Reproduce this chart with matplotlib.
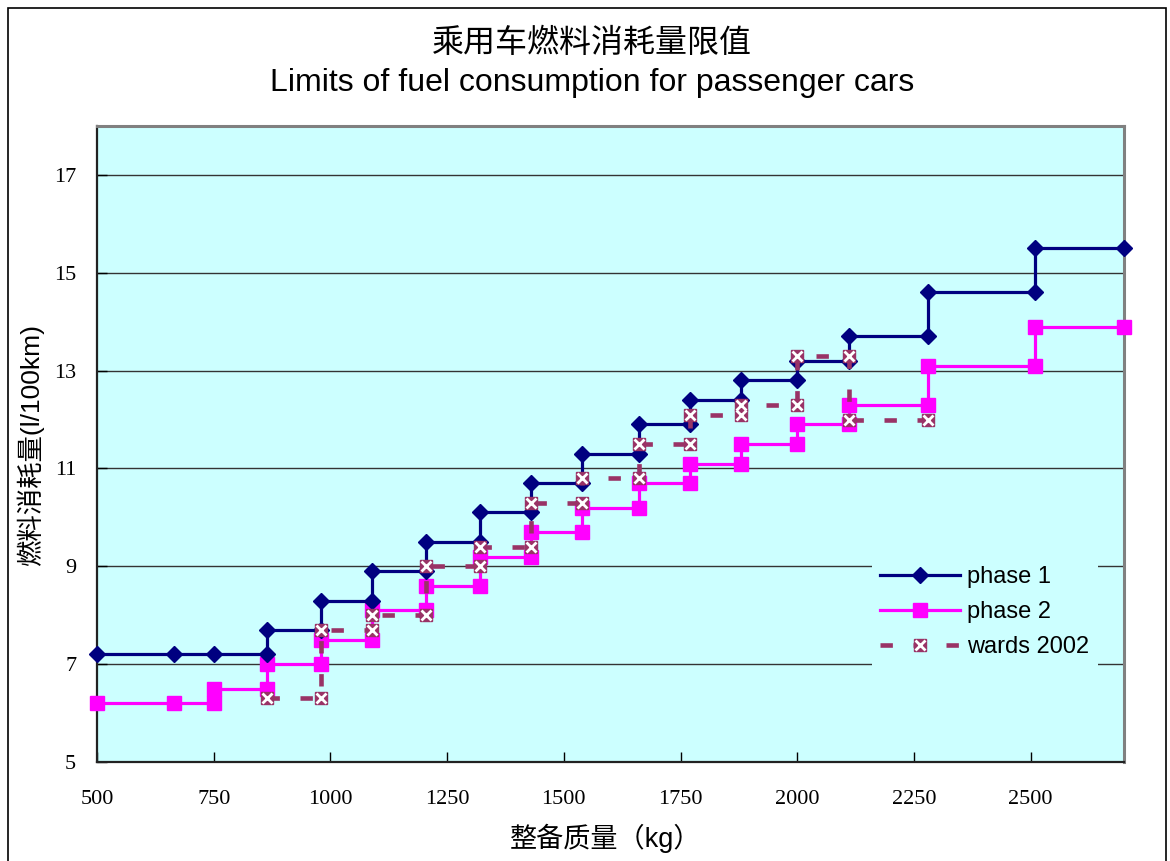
import matplotlib
matplotlib.use("Agg")
import matplotlib.pyplot as plt
from matplotlib.patches import Rectangle
from matplotlib.legend_handler import HandlerTuple

# step points (curb mass kg, fuel limit l/100km)
phase1_x = [500, 665, 750, 865, 865, 980, 980, 1090, 1090, 1205, 1205, 1320, 1320, 1430,
            1430, 1540, 1540, 1660, 1660, 1770, 1770, 1880, 1880, 2000, 2000, 2110, 2110,
            2280, 2280, 2510, 2510, 2700]
phase1_y = [7.2, 7.2, 7.2, 7.2, 7.7, 7.7, 8.3, 8.3, 8.9, 8.9, 9.5, 9.5, 10.1, 10.1,
            10.7, 10.7, 11.3, 11.3, 11.9, 11.9, 12.4, 12.4, 12.8, 12.8, 13.2, 13.2, 13.7,
            13.7, 14.6, 14.6, 15.5, 15.5]

phase2_x = [500, 665, 750, 750, 865, 865, 980, 980, 1090, 1090, 1205, 1205, 1320, 1320,
            1430, 1430, 1540, 1540, 1660, 1660, 1770, 1770, 1880, 1880, 2000, 2000, 2110,
            2110, 2280, 2280, 2510, 2510, 2700]
phase2_y = [6.2, 6.2, 6.2, 6.5, 6.5, 7.0, 7.0, 7.5, 7.5, 8.1, 8.1, 8.6, 8.6, 9.2,
            9.2, 9.7, 9.7, 10.2, 10.2, 10.7, 10.7, 11.1, 11.1, 11.5, 11.5, 11.9, 11.9,
            12.3, 12.3, 13.1, 13.1, 13.9, 13.9]

wards_x = [865, 980, 980, 1090, 1090, 1205, 1205, 1320, 1320, 1430, 1430, 1540, 1540,
           1660, 1660, 1770, 1770, 1880, 1880, 2000, 2000, 2110, 2110, 2280]
wards_y = [6.3, 6.3, 7.7, 7.7, 8.0, 8.0, 9.0, 9.0, 9.4, 9.4, 10.3, 10.3, 10.8,
           10.8, 11.5, 11.5, 12.1, 12.1, 12.3, 12.3, 13.3, 13.3, 12.0, 12.0]

x_ticks = [500, 750, 1000, 1250, 1500, 1750, 2000, 2250, 2500]
y_ticks = [5, 7, 9, 11, 13, 15, 17]

NAVY = "#000080"
MAGENTA = "#FF00FF"
MAROON = "#993366"
BG = "#CCFFFF"

cjk = ["Liberation Sans", "Noto Sans CJK SC"]

fig = plt.figure(figsize=(11.7, 8.61), dpi=100)
ax = fig.add_axes([97 / 1170, 1 - 762 / 861, (1124 - 97) / 1170, (762 - 126) / 861])
ax.set_facecolor(BG)

# outer frame of the chart
fig.patches.append(Rectangle((8 / 1170, -0.1), (1166 - 8) / 1170, 1.1 - 8 / 861,
                             transform=fig.transFigure, fill=False,
                             edgecolor="black", linewidth=1.2))

for yv in y_ticks[1:]:
    ax.axhline(yv, color="#333333", linewidth=1.0, zorder=1)

l1, = ax.plot(phase1_x, phase1_y, color=NAVY, linewidth=2.3, marker="D",
              markersize=8, markerfacecolor=NAVY, markeredgecolor=NAVY,
              zorder=4, clip_on=False, label="phase 1")
l2, = ax.plot(phase2_x, phase2_y, color=MAGENTA, linewidth=2.3, marker="s",
              markersize=10, markerfacecolor=MAGENTA, markeredgecolor=MAGENTA,
              zorder=3, clip_on=False, label="phase 2")
l3, = ax.plot(wards_x, wards_y, color=MAROON, linewidth=3.3,
              linestyle=(0, (2.7, 4.5)), marker="s", markersize=9,
              markerfacecolor=MAROON, markeredgecolor=MAROON, zorder=5)
l3x, = ax.plot(wards_x, wards_y, linestyle="none", marker="x", markersize=7,
               markeredgecolor="white", markeredgewidth=2.0, zorder=6)

ax.set_xlim(500, 2700)
ax.set_ylim(5, 18)
ax.set_xticks(x_ticks)
ax.set_yticks(y_ticks)
ax.tick_params(direction="in", length=7, width=1, color="black")
ax.tick_params(axis="x", pad=20)
ax.tick_params(axis="y", pad=15)
for lab in ax.get_xticklabels() + ax.get_yticklabels():
    lab.set_fontfamily("Liberation Serif")
    lab.set_fontsize(16)

for side in ["left", "bottom"]:
    ax.spines[side].set_color("#222222")
    ax.spines[side].set_linewidth(1.6)
for side in ["top", "right"]:
    ax.spines[side].set_color("#808080")
    ax.spines[side].set_linewidth(2.2)

fig.text(592 / 1170, 1 - 43 / 861, "乘用车燃料消耗量限值", ha="center", va="center",
         fontsize=23, family="Noto Sans CJK SC")
fig.text(592 / 1170, 1 - 83 / 861, "Limits of fuel consumption for passenger cars",
         ha="center", va="center", fontsize=23, family="Liberation Sans")
fig.text(30 / 1170, 1 - 445 / 861, "燃料消耗量(l/100km)", rotation=90,
         ha="center", va="center", fontsize=19, family=cjk)
fig.text(606 / 1170, 1 - 838 / 861, "整备质量（kg）", ha="center", va="center",
         fontsize=19.5, family=cjk)

leg = ax.legend([l1, l2, (l3, l3x)], ["phase 1", "phase 2", "wards 2002"],
                handler_map={tuple: HandlerTuple(ndivide=1)},
                loc="upper left", bbox_to_anchor=(860 / 1170, 1 - 546 / 861),
                bbox_transform=fig.transFigure, numpoints=1,
                prop={"family": "Liberation Sans", "size": 17},
                handlelength=3.4, handletextpad=0.3, labelspacing=0.55,
                borderpad=0.35, frameon=True, fancybox=False)
leg.get_frame().set_facecolor(BG)
leg.get_frame().set_edgecolor("none")
leg.get_frame().set_alpha(1)
leg.set_zorder(10)

fig.savefig("out.png", dpi=100)
